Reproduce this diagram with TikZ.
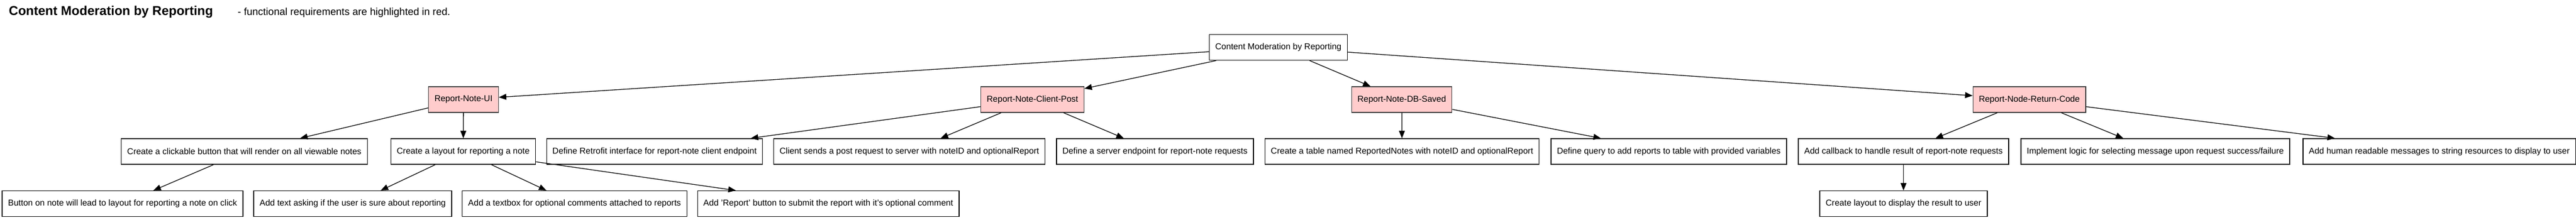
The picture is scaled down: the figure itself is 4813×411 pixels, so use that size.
\documentclass[tikz,border=0pt]{standalone}
\usepackage{fontspec}
\setmainfont{Liberation Sans}
\definecolor{reqpink}{RGB}{255,204,204}
\definecolor{reqedge}{RGB}{60,60,60}
\usepackage{tikz}
\usetikzlibrary{arrows.meta}

\begin{document}
\begin{tikzpicture}[x=1pt,y=-1pt,
    taskbox/.style={draw=black,line width=1.4pt,minimum height=48pt,inner xsep=11pt,font=\fontsize{16}{19}\selectfont},
    reqbox/.style={taskbox,draw=reqedge,fill=reqpink},
    arr/.style={line width=1.3pt,-{Triangle[length=14pt,width=11pt]}}]
    \useasboundingbox (0,0) rectangle (4813,411);

    % Title
    \node[anchor=base west,inner sep=0pt,font=\fontsize{24}{28}\selectfont\bfseries] (title) at (16.5,29) {Content Moderation by Reporting};
    \node[anchor=base west,inner sep=0pt,font=\fontsize{19}{23}\selectfont] (subtitle) at (444,29) {- functional requirements are highlighted in red.};

    % Root
    \node[taskbox] (root) at (2388.5,88.5) {Content Moderation by Reporting};

    % Functional requirements
    \node[reqbox] (ui) at (866,186) {Report-Note-UI};
    \node[reqbox] (post) at (1929,186) {Report-Note-Client-Post};
    \node[reqbox] (db) at (2619,186) {Report-Note-DB-Saved};
    \node[reqbox] (code) at (3791.5,186) {Report-Node-Return-Code};

    % Tasks
    \node[taskbox] (clickable) at (456.5,283) {Create a clickable button that will render on all viewable notes};
    \node[taskbox] (layout) at (865.5,283) {Create a layout for reporting a note};
    \node[taskbox] (retrofit) at (1223,283) {Define Retrofit interface for report-note client endpoint};
    \node[taskbox] (sends) at (1699,283) {Client sends a post request to server with noteID and optionalReport};
    \node[taskbox] (server) at (2158,283) {Define a server endpoint for report-note requests};
    \node[taskbox] (table) at (2619.5,283) {Create a table named ReportedNotes with noteID and optionalReport};
    \node[taskbox] (query) at (3118,283) {Define query to add reports to table with provided variables};
    \node[taskbox] (callback) at (3556.5,283) {Add callback to handle result of report-note requests};
    \node[taskbox] (logic) at (4027,283) {Implement logic for selecting message upon request success/failure};
    \node[taskbox] (human) at (4557.5,283) {Add human readable messages to string resources to display to user};

    % Subtasks
    \node[taskbox] (onclick) at (229,380.5) {Button on note will lead to layout for reporting a note on click};
    \node[taskbox] (asking) at (659,380.5) {Add text asking if the user is sure about reporting};
    \node[taskbox] (textbox) at (1073.5,380.5) {Add a textbox for optional comments attached to reports};
    \node[taskbox] (submit) at (1547.5,380.5) {Add 'Report' button to submit the report with it's optional comment};
    \node[taskbox] (display) at (3556.5,380.5) {Create layout to display the result to user};

    % Edges
    \draw[arr] (root) -- (ui);
    \draw[arr] (root) -- (post);
    \draw[arr] (root) -- (db);
    \draw[arr] (root) -- (code);
    \draw[arr] (ui) -- (clickable);
    \draw[arr] (ui) -- (layout);
    \draw[arr] (post) -- (retrofit);
    \draw[arr] (post) -- (sends);
    \draw[arr] (post) -- (server);
    \draw[arr] (db) -- (table);
    \draw[arr] (db) -- (query);
    \draw[arr] (code) -- (callback);
    \draw[arr] (code) -- (logic);
    \draw[arr] (code) -- (human);
    \draw[arr] (clickable) -- (onclick);
    \draw[arr] (layout) -- (asking);
    \draw[arr] (layout) -- (textbox);
    \draw[arr] (layout) -- (submit);
    \draw[arr] (callback) -- (display);
\end{tikzpicture}
\end{document}
